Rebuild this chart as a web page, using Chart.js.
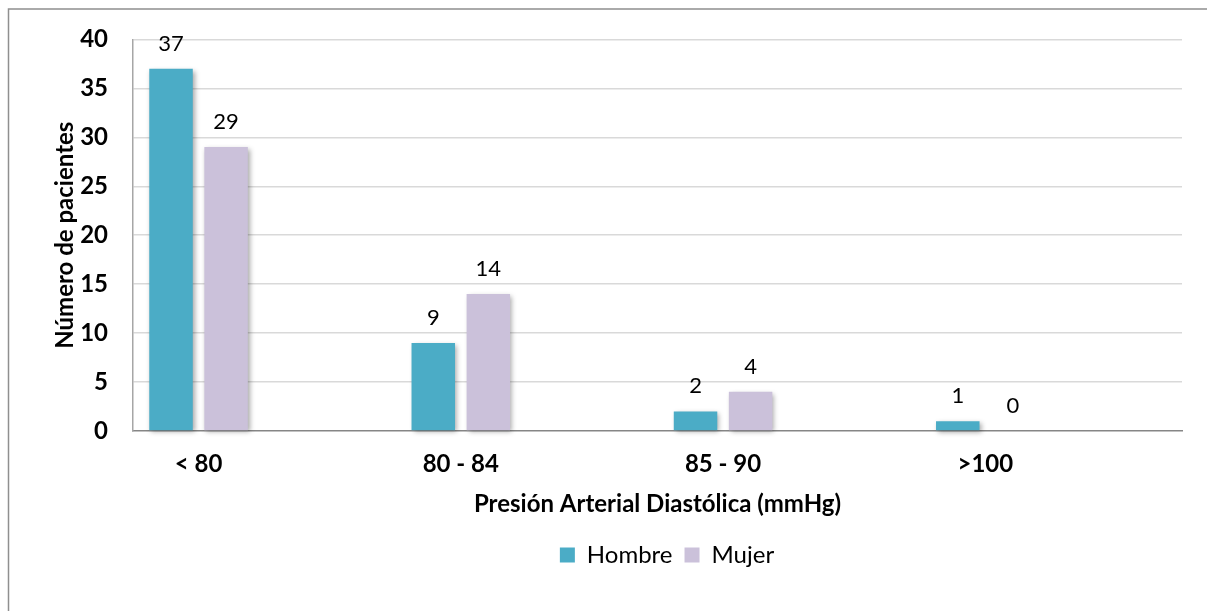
<!DOCTYPE html>
<html lang="es">
<head>
<meta charset="utf-8">
<title>Presión Arterial Diastólica</title>
<script src="https://cdn.jsdelivr.net/npm/chart.js@4.4.1/dist/chart.umd.min.js"></script>
<style>
  html, body { margin: 0; padding: 0; background: #ffffff; }
  #wrap { width: 1207px; height: 611px; position: relative; }
</style>
</head>
<body>
<div id="wrap"><canvas id="chart" width="1207" height="611"></canvas></div>
<script>
// Rangos de presión diastólica (eje X)
const categories = ['< 80', '80 - 84', '85 - 90', '>100'];
// Número de pacientes por sexo
const hombre = [37, 9, 2, 1];
const mujer = [29, 14, 4, 0];
// Marcas del eje Y
const yTicks = [0, 5, 10, 15, 20, 25, 30, 35, 40];

const FONT = 'Lato, "Open Sans", sans-serif';
const TEXT = '#000000';

const toPoints = arr => arr.map((v, i) => ({ x: i, y: v }));

// Marco gris alrededor del gráfico
const framePlugin = {
  id: 'frame',
  beforeDraw(chart) {
    const c = chart.ctx;
    c.save();
    c.strokeStyle = '#8f8f8f';
    c.lineWidth = 1.5;
    c.strokeRect(8.5, 9, chart.width + 20, chart.height + 20);
    c.restore();
  }
};

// Leyenda centrada respecto al área de trazado
const legendShift = {
  id: 'legendShift',
  afterLayout(chart) {
    const lg = chart.legend;
    if (lg) {
      lg.left = chart.chartArea.left + 19;
    }
  }
};

// Sombra suave bajo las barras
const shadowPlugin = {
  id: 'barShadow',
  beforeDatasetsDraw(chart) {
    const c = chart.ctx;
    c.save();
    c.shadowColor = 'rgba(0,0,0,0.35)';
    c.shadowBlur = 5;
    c.shadowOffsetX = 2;
    c.shadowOffsetY = 2;
  },
  afterDatasetsDraw(chart) {
    chart.ctx.restore();
  }
};

// Valores encima de cada barra
const valueLabels = {
  id: 'valueLabels',
  afterDatasetsDraw(chart) {
    const c = chart.ctx;
    c.save();
    c.font = '22px ' + FONT;
    c.fillStyle = TEXT;
    c.textAlign = 'center';
    c.textBaseline = 'alphabetic';
    chart.data.datasets.forEach((ds, di) => {
      const meta = chart.getDatasetMeta(di);
      meta.data.forEach((bar, i) => {
        const v = ds.data[i].y;
        c.fillText(String(v), bar.x, bar.y - 18);
      });
    });
    c.restore();
  }
};

new Chart(document.getElementById('chart'), {
  type: 'bar',
  data: {
    datasets: [
      {
        label: 'Hombre',
        data: toPoints(hombre),
        backgroundColor: '#4BACC6',
        borderWidth: 0,
        categoryPercentage: 0.42,
        barPercentage: 0.79,
        clip: false
      },
      {
        label: 'Mujer',
        data: toPoints(mujer),
        backgroundColor: '#CBC1DA',
        borderWidth: 0,
        categoryPercentage: 0.42,
        barPercentage: 0.79,
        clip: false
      }
    ]
  },
  options: {
    responsive: false,
    animation: false,
    devicePixelRatio: 1,
    layout: { padding: { left: 10, top: 38, right: 25, bottom: 34 } },
    plugins: {
      tooltip: { enabled: false },
      legend: {
        position: 'bottom',
        labels: {
          boxWidth: 15,
          boxHeight: 15,
          padding: 12,
          color: TEXT,
          font: { family: FONT, size: 24 }
        }
      }
    },
    scales: {
      x: {
        type: 'linear',
        min: -0.25,
        max: 3.75,
        offset: false,
        afterBuildTicks(scale) {
          scale.ticks = categories.map((_, i) => ({ value: i }));
        },
        afterFit(scale) { scale.height = 100; },
        grid: { display: false, drawTicks: false },
        border: { display: true, color: '#868686', width: 1.5 },
        ticks: {
          padding: 19,
          color: TEXT,
          font: { family: FONT, size: 24, weight: 'bold' },
          maxRotation: 0,
          callback: v => categories[v] ?? ''
        },
        title: {
          display: true,
          text: 'Presión Arterial Diastólica (mmHg)',
          color: TEXT,
          font: { family: FONT, size: 24, weight: 'bold' },
          padding: { top: 12, bottom: 12 }
        }
      },
      y: {
        min: 0,
        max: 40,
        afterBuildTicks(scale) {
          scale.ticks = yTicks.map(v => ({ value: v }));
        },
        afterFit(scale) { scale.width = 123; },
        grid: {
          drawTicks: false,
          color: ctx => (ctx.tick && ctx.tick.value === 0) ? 'rgba(0,0,0,0)' : '#d9d9d9',
          lineWidth: 1.5
        },
        border: { display: true, color: '#a6a6a6', width: 1.5 },
        ticks: {
          padding: 25,
          color: TEXT,
          font: { family: FONT, size: 24, weight: 'bold' }
        },
        title: {
          display: true,
          text: 'Número de pacientes',
          color: TEXT,
          font: { family: FONT, size: 24, weight: 'bold' },
          padding: { top: 41, bottom: 41 }
        }
      }
    }
  },
  plugins: [framePlugin, legendShift, shadowPlugin, valueLabels]
});
</script>
</body>
</html>
